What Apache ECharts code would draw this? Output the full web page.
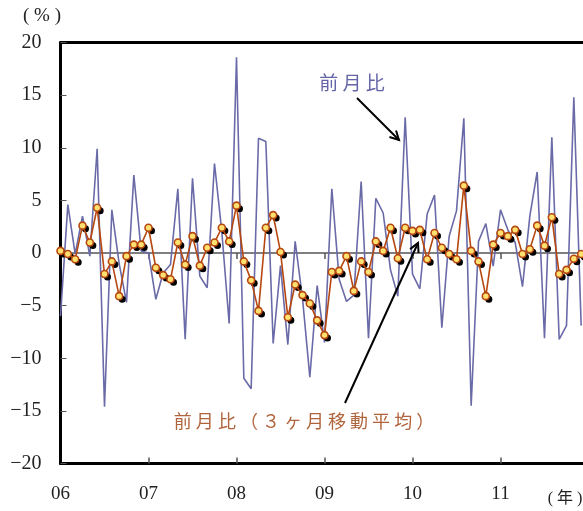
<!DOCTYPE html>
<html><head><meta charset="utf-8">
<script src="https://cdn.jsdelivr.net/npm/echarts@6/dist/echarts.min.js"></script>
<style>html,body{margin:0;padding:0;background:#fff}#c{width:583px;height:511px}</style>
</head><body><div id="c"></div>
<script>
// tick labels
const yearLabels = ['06', '07', '08', '09', '10', '11'];
const firstYear = 2006;
// month-on-month change (%), Jan 2006 - Dec 2011
const momChange = [
  -6.0, 4.6, -0.1, 3.5, -0.3, 9.9, -14.6, 4.1, -1.0, -4.7, 7.4, 0.2,
  0.0, -4.4, -1.9, -1.1, 6.1, -8.2, 7.1, -2.2, -3.3, 8.5, 2.0, -6.7,
  18.6, -11.9, -12.9, 10.9, 10.6, -8.6, -1.2, -8.7, 1.1, -4.3, -11.8, -3.1,
  -8.5, 6.1, -2.5, -4.6, -4.0, 6.8, -8.1, 5.2, 3.8, -1.6, -4.1, 12.9,
  -2.0, -3.4, 3.7, 5.5, -7.1, 1.6, 4.0, 12.8, -14.5, 1.1, 2.8, -1.25,
  4.1, 2.2, 1.0, -3.2, 3.5, 7.7, -8.1, 11.0, -8.2, -6.9, 14.8, -6.9
];
// month-on-month change, 3-month moving average (%)
const mom3mAvg = [
  0.2, -0.1, -0.6, 2.6, 1.0, 4.3, -2.0, -0.8, -4.1, -0.3, 0.8, 0.8,
  2.4, -1.4, -2.1, -2.5, 1.0, -1.1, 1.6, -1.2, 0.5, 1.0, 2.4, 1.1,
  4.5, -0.8, -2.6, -5.5, 2.4, 3.6, 0.1, -6.1, -3.0, -4.0, -4.8, -6.4,
  -7.8, -1.8, -1.7, -0.3, -3.6, -0.8, -1.8, 1.1, 0.2, 2.4, -0.5, 2.4,
  2.1, 2.2, -0.6, 1.9, 0.5, -0.1, -0.6, 6.4, 0.2, -0.8, -4.1, 0.8,
  1.9, 1.6, 2.2, -0.1, 0.35, 2.6, 0.7, 3.4, -2.0, -1.6, -0.55, -0.1
];
// month categories (one extra month so the frame runs past the page edge)
const months = [];
for (let y = 0; y < yearLabels.length; y++) {
  for (let m = 1; m <= 12; m++) months.push((firstYear + y) + '-' + (m < 10 ? '0' : '') + m);
}
months.push((firstYear + yearLabels.length) + '-01');

const blueSeries = momChange.concat([null]);
const orangeSeries = mom3mAvg.concat([null]);

const serif = '"Liberation Serif", "DejaVu Serif", serif';
const cjk = '"Noto Sans CJK JP", "Noto Sans", sans-serif';

function arrow(x1, y1, x2, y2) {
  const dx = x2 - x1, dy = y2 - y1, L = Math.hypot(dx, dy), ux = dx / L, uy = dy / L;
  const a = Math.PI / 6.5, h = 10;
  const c = Math.cos(a), s = Math.sin(a);
  const w1 = [x2 - h * (ux * c - uy * s), y2 - h * (uy * c + ux * s)];
  const w2 = [x2 - h * (ux * c + uy * s), y2 - h * (uy * c - ux * s)];
  return [
    { type: 'line', z: 100, shape: { x1, y1, x2, y2 }, style: { stroke: '#000', lineWidth: 2 } },
    { type: 'polyline', z: 100, shape: { points: [w1, [x2, y2], w2] }, style: { stroke: '#000', lineWidth: 2, fill: null } }
  ];
}

const chart = echarts.init(document.getElementById('c'), null, { renderer: 'canvas' });
const catAxisBase = { type: 'category', data: months, boundaryGap: false, gridIndex: 0 };
chart.setOption({
  animation: false,
  backgroundColor: '#fff',
  grid: { left: 60.5, top: 42.5, width: 528, height: 421, containLabel: false, outerBoundsMode: 'none' },
  xAxis: [
    Object.assign({}, catAxisBase, {
      position: 'bottom',
      axisLine: { show: true, onZero: false, lineStyle: { color: '#000', width: 3 } },
      axisTick: { show: false },
      axisLabel: {
        show: true, margin: 21, interval: (i) => i % 12 === 0 && i < 72,
        formatter: (v, i) => yearLabels[Math.round(i / 12)] || '',
        fontFamily: serif, fontSize: 19, color: '#222'
      },
      splitLine: { show: false }
    }),
    Object.assign({}, catAxisBase, {
      position: 'top',
      axisLine: { show: true, onZero: false, lineStyle: { color: '#000', width: 3 } },
      axisTick: { show: false }, axisLabel: { show: false }, splitLine: { show: false }
    }),
    Object.assign({}, catAxisBase, {
      position: 'bottom',
      axisLine: { show: true, onZero: true, lineStyle: { color: '#7f7f7f', width: 2 } },
      axisTick: { show: true, inside: false, length: 6, interval: (i) => i % 12 === 0 && i > 0, lineStyle: { color: '#555', width: 1.5 } },
      axisLabel: { show: false }, splitLine: { show: false }
    }),
    Object.assign({}, catAxisBase, {
      position: 'bottom',
      axisLine: { show: false, onZero: true },
      axisTick: { show: true, inside: true, length: 6, interval: (i) => i % 12 === 0 && i > 0, lineStyle: { color: '#555', width: 1.5 } },
      axisLabel: { show: false }, splitLine: { show: false }
    })
  ],
  yAxis: {
    type: 'value', min: -20, max: 20, interval: 5,
    axisLine: { show: true, lineStyle: { color: '#000', width: 3 } },
    axisTick: { show: true, inside: true, length: 6, lineStyle: { color: '#555', width: 1 } },
    axisLabel: {
      margin: 19, fontFamily: serif, fontSize: 20, color: '#222',
      formatter: (v) => String(v).replace('-', '\u2212')
    },
    splitLine: { show: false }
  },
  series: [
    {
      name: '前月比', type: 'line', xAxisIndex: 0, data: blueSeries,
      showSymbol: false, symbol: 'none', connectNulls: false, z: 2,
      lineStyle: { color: '#6a6aa8', width: 1.6 }
    },
    {
      name: 'shadow', type: 'line', xAxisIndex: 0, data: orangeSeries,
      symbol: 'circle', symbolSize: 7, symbolOffset: [3, 3], showSymbol: true, showAllSymbol: true, z: 3,
      lineStyle: { width: 0, opacity: 0 },
      itemStyle: { color: '#000', borderWidth: 0 },
      silent: true
    },
    {
      name: '前月比（3ヶ月移動平均）', type: 'line', xAxisIndex: 0, data: orangeSeries,
      symbol: 'circle', symbolSize: 7, showSymbol: true, showAllSymbol: true, z: 4,
      lineStyle: { color: '#b5470f', width: 1.6 },
      itemStyle: { color: '#ffe070', borderColor: '#b5470f', borderWidth: 1.6 }
    }
  ],
  graphic: [
    { type: 'text', z: 100, x: 42, y: 16, style: { text: '( % )', font: '19px ' + serif, fill: '#222', textAlign: 'center', textVerticalAlign: 'middle' } },
    { type: 'text', z: 100, x: 565, y: 499, style: { text: '( 年 )', font: '16px ' + serif + ', "Noto Sans CJK JP"', fill: '#222', textAlign: 'center', textVerticalAlign: 'middle' } },
    { type: 'text', z: 100, x: 352, y: 83, style: { text: '前 月 比', font: '19px ' + cjk, fill: '#6464a8', textAlign: 'center', textVerticalAlign: 'middle' } },
    { type: 'text', z: 100, x: 304, y: 421, style: { text: '前 月 比 （ ３ ヶ 月 移 動 平 均 ）', font: '18px ' + cjk, fill: '#b0643c', textAlign: 'center', textVerticalAlign: 'middle' } }
  ].concat(arrow(357, 98, 399, 140)).concat(arrow(345, 403, 418, 243))
});
</script>
</body></html>
